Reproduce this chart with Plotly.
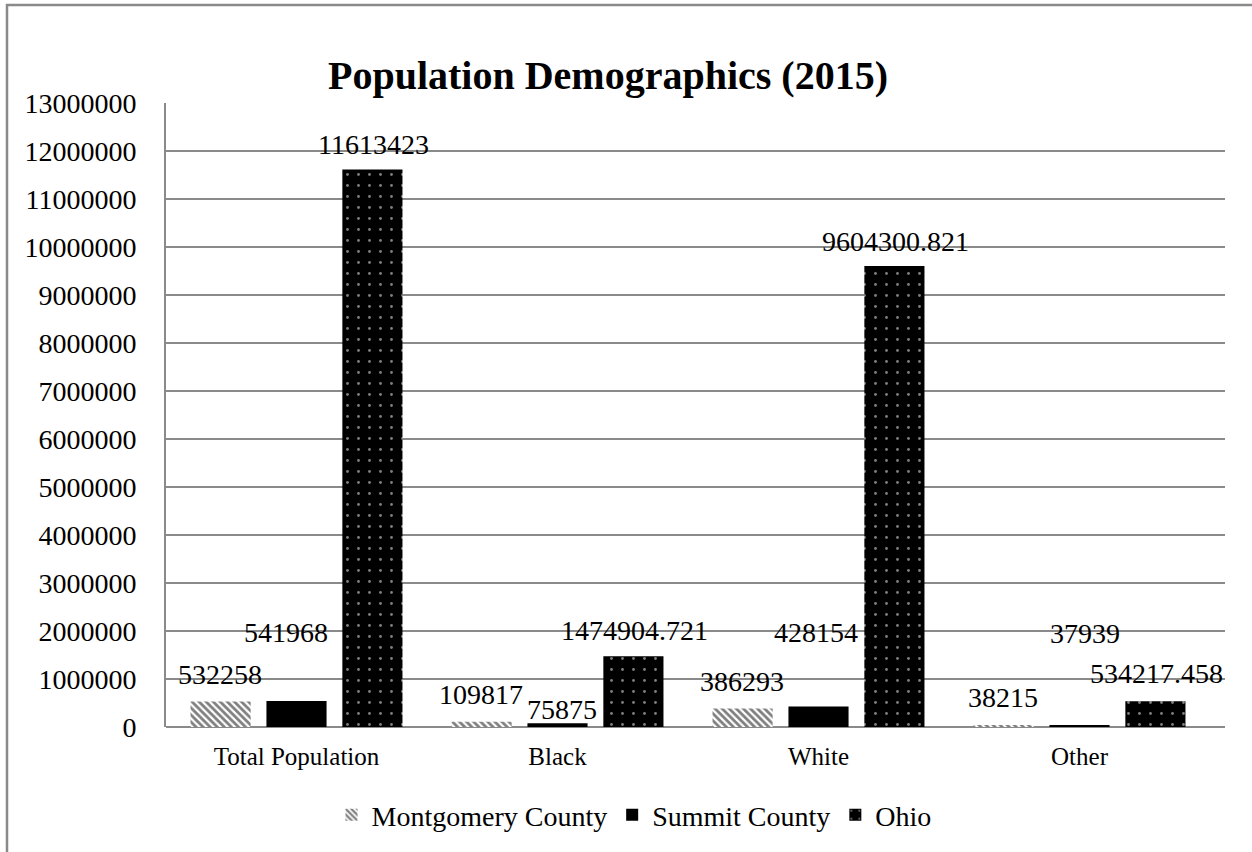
import plotly.graph_objects as go

# ---- data ----
categories = ["Total Population", "Black", "White", "Other"]
series_names = ["Montgomery County", "Summit County", "Ohio"]
montgomery = [532258, 109817, 386293, 38215]
summit = [541968, 75875, 428154, 37939]
ohio = [11613423, 1474904.721, 9604300.821, 534217.458]
montgomery_labels = ["532258", "109817", "386293", "38215"]
summit_labels = ["541968", "75875", "428154", "37939"]
ohio_labels = ["11613423", "1474904.721", "9604300.821", "534217.458"]
y_tick_values = [i * 1000000 for i in range(14)]
y_tick_labels = [str(v) for v in y_tick_values]

# ---- style ----
FONT = "Liberation Serif"
GRID = "#8a8a8a"
W, H = 1252, 852
ML, MR, MT, MB = 166, 27, 103, 125

fig = go.Figure()

fig.add_trace(go.Bar(
    name=series_names[0], x=categories, y=montgomery,
    marker=dict(color="white", line=dict(width=0),
                pattern=dict(shape="\\", fgcolor="black", bgcolor="white",
                             size=5, solidity=0.55)),
))
fig.add_trace(go.Bar(
    name=series_names[1], x=categories, y=summit,
    marker=dict(color="black", line=dict(width=0)),
))
fig.add_trace(go.Bar(
    name=series_names[2], x=categories, y=ohio,
    marker=dict(color="black", line=dict(width=0),
                pattern=dict(shape=".", fgcolor="white", bgcolor="black",
                             size=11, solidity=0.05)),
))

# data labels (Excel-like placement)
series_vals = [montgomery, summit, ohio]
series_labels = [montgomery_labels, summit_labels, ohio_labels]
slot = 77  # pixel distance between bars in a group
label_dx = [[0, 0, 0, 0], [-11, 4, -3, 5], [0, 0, 0, 0]]
label_dy = [[27, 27, 27, 28], [68, 14, 74, 92], [25, 26, 24, 28]]
annotations = []
for si in range(3):
    for ci, cat in enumerate(categories):
        annotations.append(dict(
            x=cat, y=series_vals[si][ci], xref="x", yref="y",
            text=series_labels[si][ci], showarrow=False,
            xshift=(si - 1) * slot + label_dx[si][ci], yshift=label_dy[si][ci],
            yanchor="middle", xanchor="center",
            font=dict(family=FONT, size=28, color="black"),
        ))

pw = W - ML - MR
ph = H - MT - MB

fig.update_layout(
    width=W, height=H,
    margin=dict(l=ML, r=MR, t=MT, b=MB),
    paper_bgcolor="white", plot_bgcolor="white",
    barmode="group", bargap=0.1275, bargroupgap=0.208,
    title=dict(text="<b>Population Demographics (2015)</b>",
               x=608 / W, xref="container", xanchor="center",
               y=1 - 75 / H, yref="container", yanchor="middle",
               font=dict(family=FONT, size=40, color="black")),
    font=dict(family=FONT, size=26, color="black"),
    legend=dict(orientation="h", x=(634 - ML) / pw, xanchor="center",
                y=(MT + ph - 815) / ph, yanchor="middle",
                font=dict(family=FONT, size=28, color="black"),
                bgcolor="rgba(0,0,0,0)"),
    annotations=annotations,
    shapes=[dict(type="rect", xref="paper", yref="paper",
                 x0=(7 - ML) / pw, x1=(W + 20 - ML) / pw,
                 y0=(MT + ph - (H + 20)) / ph, y1=(MT + ph - 5) / ph,
                 line=dict(color=GRID, width=2.5), layer="below")],
    showlegend=True,
)

fig.update_yaxes(range=[0, 13000000], tickvals=y_tick_values, ticktext=y_tick_labels,
                 showgrid=True, gridcolor=GRID, gridwidth=2,
                 showline=True, linecolor=GRID, linewidth=2,
                 zeroline=True, zerolinecolor=GRID, zerolinewidth=2,
                 ticks="", ticklabelstandoff=22,
                 tickfont=dict(family=FONT, size=28, color="black"))
fig.update_xaxes(showgrid=False, showline=False, ticks="", ticklabelstandoff=12,
                 tickfont=dict(family=FONT, size=25, color="black"))

fig.write_html("out.html")
